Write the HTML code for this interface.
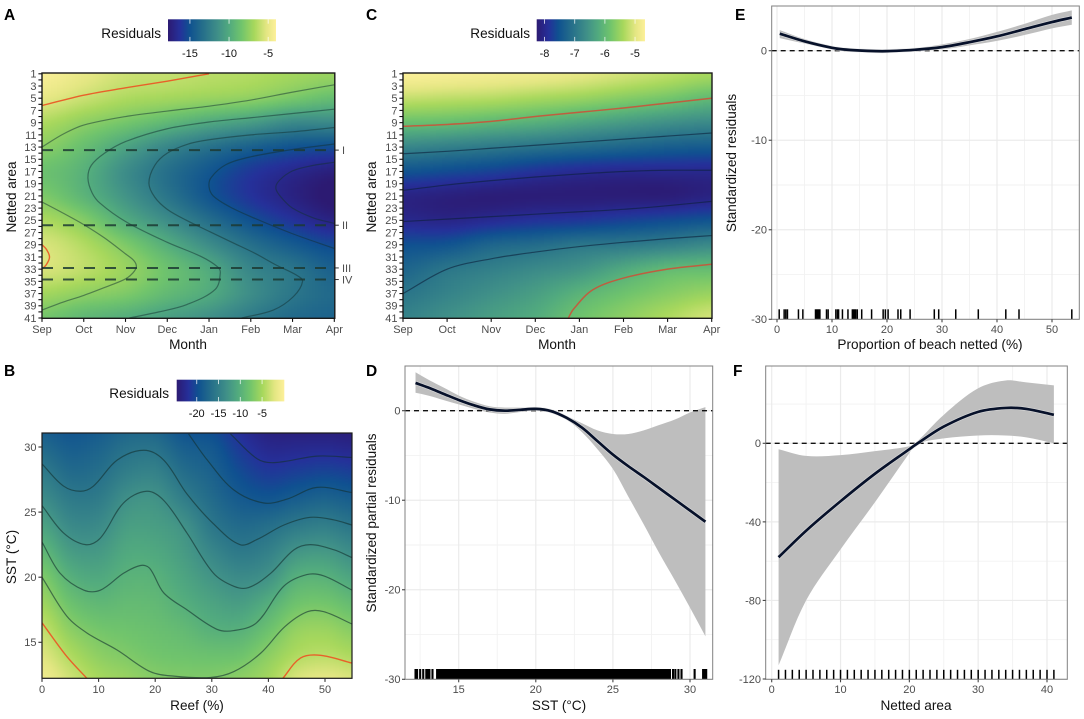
<!DOCTYPE html>
<html lang="en">
<head>
<meta charset="utf-8">
<title>Residual smooth panels A-F</title>
<style>
html,body{margin:0;padding:0;background:#fff;}
svg{display:block;font-family:"Liberation Sans",sans-serif;}
</style>
</head>
<body>
<svg id="fig" xmlns="http://www.w3.org/2000/svg" width="1084" height="719" viewBox="0 0 1084 719">
  <defs id="defs">
    <filter id="heat-soften" x="-5%" y="-5%" width="110%" height="110%" color-interpolation-filters="sRGB">
      <feGaussianBlur stdDeviation="1.6"></feGaussianBlur>
    </filter>
  </defs>
  <g id="panel-a"></g>
  <g id="panel-b"></g>
  <g id="panel-c"></g>
  <g id="panel-d"></g>
  <g id="panel-e"></g>
  <g id="panel-f"></g>
</svg>
<script>
/* ---------- shared labels ---------- */
const monthLabels = ['Sep','Oct','Nov','Dec','Jan','Feb','Mar','Apr'];
const areaTicks = [1,2,3,4,5,6,7,8,9,10,11,12,13,14,15,16,17,18,19,20,21,22,23,24,25,26,27,28,29,30,31,32,33,34,35,36,37,38,39,40,41];
const paletteColors = ['#2c1a72','#25309a','#0f5190','#256e8a','#3f8f88','#52ab7e','#70c46c','#a8d85c','#e3e682','#fdf09a'];
const paletteStops = [0,0.11,0.2,0.32,0.46,0.57,0.68,0.8,0.91,1];

/* ---------- panel A data ---------- */
const aAreaRows = [1,5,9,13,17,21,25,29,33,37,41];
const aValues = [
 [-4.2,-5.1,-6.6,-7.6,-8.6,-8.0,-6.6,-5.5,-5.5,-6.9,-8.3],
 [-5.0,-5.9,-7.5,-8.8,-9.6,-9.4,-7.8,-6.5,-6.2,-7.5,-9.2],
 [-5.8,-6.6,-8.3,-10.4,-11.6,-11.2,-9.9,-8.0,-7.2,-8.0,-9.8],
 [-6.0,-6.9,-9.2,-12.0,-13.3,-13.0,-11.6,-9.8,-8.6,-9.1,-10.6],
 [-6.3,-7.2,-10.1,-13.2,-14.7,-14.8,-13.4,-11.6,-10.0,-10.0,-11.4],
 [-6.5,-7.5,-10.8,-14.2,-16.0,-16.2,-15.0,-13.3,-12.0,-11.6,-12.6],
 [-6.9,-8.2,-11.8,-14.9,-16.8,-17.2,-16.2,-14.5,-13.0,-12.9,-13.6],
 [-7.2,-8.9,-11.8,-15.2,-17.4,-18.0,-17.2,-15.4,-14.2,-13.7,-14.0]
];
const aLegendDomain = [-17.8,-4];
const aLegendTicks = [-15,-10,-5];
const aRedContours = [
 [[0,6.2],[1,4.5],[2,3.3],[3,2.2],[4,1]],
 [[0,29],[0.1,29.7],[0.18,31],[0.1,32.3],[0,33]]
];
const aDarkContours = [
 [[0,13],[0.5,10.9],[1,9.4],[2,8],[3,7.1],[4,6.3],[5,5.3],[6,4],[7,2.8]],
 [[0,22],[0.5,23.8],[1,25.7],[1.5,27.9],[2,30.5],[2.2,31.6],[2.26,32.6],[2.18,33.6],[2,34.6],[1.5,36],[1,37.3],[0.5,38.4],[0,39.7]],
 [[7,6.8],[6,7.5],[5,8.2],[4,8.9],[3,10],[2,12.1],[1.5,14],[1.18,16],[1.1,18.1],[1.2,20.5],[1.39,22.2],[2,25.2],[3,28.6],[3.8,30.9],[4.2,32.6],[4.27,33.6],[4.15,36.3],[3.47,38.8],[2.8,40],[2.09,41]],
 [[7,9.8],[6,10.5],[5,11],[4,11.8],[3.5,12.5],[3,14],[2.7,16],[2.56,18.9],[2.7,21.2],[3,23.2],[3.46,25],[4,26.8],[4.58,28.7],[5.1,30.4],[5.6,32.3],[6.1,34],[6.24,35],[6.02,37.5],[5.54,39.7],[4.78,41]],
 [[7,12.5],[6,13.4],[5,14.6],[4.4,15.9],[4.05,18],[4,19.5],[4.1,21],[4.5,22.8],[5,24.4],[6,27.2],[7,29.6]],
 [[7,15.5],[6.5,16],[6,16.9],[5.68,18.5],[5.6,19.8],[5.75,21.4],[6,23],[6.5,24.6],[7,25.5]]
];
const aDashedAreas = [13.5,25.8,32.8,34.7];
const aDashedLabels = ['I','II','III','IV'];

/* ---------- panel C data ---------- */
const cAreaRows = [1,5,9,13,17,21,25,29,33,37,41];
const cValues = [
 [-4.7,-5.2,-5.9,-6.75,-7.5,-8.08,-8.0,-7.55,-7.25,-7.0,-6.8],
 [-4.75,-5.25,-5.95,-6.85,-7.6,-8.15,-8.05,-7.5,-7.0,-6.8,-6.6],
 [-4.8,-5.3,-6.05,-6.95,-7.7,-8.2,-7.95,-7.25,-6.85,-6.6,-6.4],
 [-4.85,-5.4,-6.15,-7.05,-7.85,-8.2,-7.85,-7.15,-6.7,-6.4,-6.2],
 [-4.95,-5.5,-6.3,-7.15,-7.95,-8.2,-7.8,-7.0,-6.55,-6.1,-5.85],
 [-5.1,-5.65,-6.45,-7.25,-8.0,-8.2,-7.7,-6.95,-6.25,-5.85,-5.6],
 [-5.25,-5.8,-6.6,-7.35,-8.0,-8.2,-7.6,-6.85,-6.0,-5.65,-5.35],
 [-5.4,-6.0,-6.7,-7.4,-8.0,-8.1,-7.5,-6.7,-5.95,-5.5,-5.1]
];
const cLegendDomain = [-8.26,-4.67];
const cLegendTicks = [-8,-7,-6,-5];
const cRedContours = [
 [[0,9.6],[1,9.3],[2,8.8],[3,8],[4,7.3],[5,6.6],[6,5.8],[7,5]],
 [[3.75,41],[3.86,39.6],[4.3,36.4],[4.98,34.5],[6,33],[7,32.2]]
];
const cDarkContours = [
 [[0,14.1],[1,13.7],[2,13.2],[3,12.7],[4,12.2],[5,11.7],[6,11.2],[7,10.7]],
 [[0,20.1],[1,19.2],[2,18.5],[3,17.9],[4,17.4],[5,17],[6,16.8],[7,16.8]],
 [[0,25.2],[1,24.8],[2,24.4],[3,24],[4,23.6],[5,23.2],[6,22.6],[7,21.9]],
 [[0,37],[1,33],[2,31.3],[3,30.2],[4,29.3],[5,28.6],[6,28],[7,27.5]]
];

/* ---------- panel B data ---------- */
const bReefColumns = [0,5,10,15,20,25,30,35,40,45,50,55];
const bSstRows = [12,14,16,18,20,22,24,26,28,30,32];
const bValues = [
 [-1,-2.3,-3.6,-5.3,-7,-9.2,-11.4,-13.5,-15.3,-17.2,-19],
 [-3,-4.5,-6.3,-8.1,-10,-12,-13.8,-15.4,-17,-18.4,-19.6],
 [-4.8,-6.2,-7.6,-9.2,-10.8,-12.3,-13.8,-15.3,-16.6,-17.8,-19],
 [-5.6,-7,-8,-8.9,-9.8,-10.8,-11.9,-13.2,-15,-16.5,-18],
 [-6.6,-7.7,-8.4,-9.1,-9.9,-10.9,-11.9,-12.9,-14.6,-16.4,-18.2],
 [-6.9,-8,-9,-10.2,-11.2,-12.1,-13,-15,-16.7,-18.3,-20],
 [-6.9,-8.2,-10,-11.3,-12.7,-14.2,-15.8,-17,-18,-19,-20.5],
 [-6.2,-8,-10,-11.9,-13.7,-15.6,-17.1,-18.7,-20,-21.3,-22.6],
 [-5,-6.3,-8.2,-10.3,-12.9,-14.8,-16.7,-19.2,-21.2,-22.8,-24],
 [-2.5,-4.5,-5.9,-8,-10.1,-12.8,-15.6,-18.4,-20.8,-22.8,-24.4],
 [-1.8,-4,-5.6,-7.7,-9.9,-12.4,-15.1,-17.8,-20.4,-22.7,-24.5],
 [-2.4,-4.6,-6.6,-8.8,-11.2,-13.6,-16,-18.4,-20.8,-23,-24.6]
];
const bLegendDomain = [-24.6,0.1];
const bLegendTicks = [-20,-15,-10,-5];
const bRedContours = [
 [[0,16.5],[4.4,13.9],[8,12.2]],
 [[42.5,12.2],[45.7,13.8],[49.2,14],[54.8,13.4]]
];
const bDarkContours = [
 [[0,20],[4.4,17],[8,15.7],[13.3,14.4],[19.1,12.75],[23.3,12.4],[29.8,12.3],[33.9,12.75],[38.6,14.15],[42.9,16.2],[46.9,17.35],[49.8,17.35],[54.8,16.4]],
 [[0,22.7],[3.2,20.3],[7.4,19],[10.3,19],[14.4,20.3],[17.4,20.9],[19,20.7],[21.5,18.8],[25.6,17.5],[30.9,16],[33.9,15.9],[37.9,16.5],[42.7,19.3],[46.8,20.2],[49.8,20.1],[54.8,19]],
 [[0,25.5],[3.8,23.4],[7.7,22.5],[10.3,23],[14.4,25.7],[18.5,26.6],[21.5,25.9],[25.6,23.4],[30.3,20.3],[33.9,19.3],[36.5,19.2],[40.4,20.3],[44.5,22.1],[47.4,22.5],[51.6,22.1],[54.8,21.5]],
 [[0,28.7],[3.8,27],[6.8,26.6],[9.1,27],[13.3,29],[18,29.75],[21.5,29],[25.6,26.4],[30.3,24.1],[35,22.5],[38,22.9],[42.7,24],[47.4,24.6],[51.6,24.4],[54.8,24]],
 [[25.9,31],[29.2,29],[33.9,26.7],[39.2,25.7],[43.3,26],[48.6,26.9],[54.8,26.5]],
 [[33.3,31],[38,29.1],[41,28.8],[48.6,29.3],[54.8,29.2]]
];

/* ---------- panel D data ---------- */
const dSst = [12.2,13,14,15,16,17,18,19,20,21,22,23,24,25,26,27,28,29,30,31];
const dFit = [3.1,2.6,1.9,1.2,0.6,0.15,0,0.1,0.2,-0.05,-0.8,-1.9,-3.4,-4.9,-6.2,-7.4,-8.65,-9.9,-11.15,-12.4];
const dUpper = [4.3,3.5,2.6,1.7,1,0.5,0.35,0.35,0.35,0.05,-0.6,-1.4,-2.2,-2.6,-2.6,-2.2,-1.6,-1,-0.2,0.4];
const dLower = [2,1.7,1.2,0.7,0.2,-0.2,-0.35,-0.15,0.05,-0.2,-1,-2.4,-4.3,-6.5,-9.6,-12.7,-15.9,-18.9,-22,-25.2];
const dRug = [12.2,12.3,12.5,12.7,12.9,13,13.1,13.3,13.6,13.7,13.8,13.9,14,14.1,14.2,14.3,14.4,14.5,14.6,14.7,14.8,14.9,15,15.1,15.2,15.3,15.4,15.5,15.6,15.7,15.8,15.9,16,16.1,16.2,16.3,16.4,16.5,16.6,16.7,16.8,16.9,17,17.1,17.2,17.3,17.4,17.5,17.6,17.7,17.8,17.9,18,18.1,18.2,18.3,18.4,18.5,18.6,18.7,18.8,18.9,19,19.1,19.2,19.3,19.4,19.5,19.6,19.7,19.8,19.9,20,20.1,20.2,20.3,20.4,20.5,20.6,20.7,20.8,20.9,21,21.1,21.2,21.3,21.4,21.5,21.6,21.7,21.8,21.9,22,22.1,22.2,22.3,22.4,22.5,22.6,22.7,22.8,22.9,23,23.1,23.2,23.3,23.4,23.5,23.6,23.7,23.8,23.9,24,24.1,24.2,24.3,24.4,24.5,24.6,24.7,24.8,24.9,25,25.1,25.2,25.3,25.4,25.5,25.6,25.7,25.8,25.9,26,26.1,26.2,26.3,26.4,26.5,26.6,26.7,26.8,26.9,27,27.1,27.2,27.3,27.4,27.5,27.6,27.7,27.8,27.9,28,28.1,28.2,28.3,28.4,28.5,28.6,28.7,28.9,29.05,29.25,29.45,30.3,30.85,30.95,31.05];
const dXMajor = [15,20,25,30];
const dXMinor = [12.5,17.5,22.5,27.5];
const dYMajor = [0,-10,-20,-30];
const dYMinor = [-5,-15,-25];

/* ---------- panel E data ---------- */
const eNetted = [0.5,5,10,12,15,18,20,25,30,35,40,45,50,53.6];
const eFit = [1.9,1.05,0.32,0.15,0.02,-0.05,-0.05,0.1,0.4,0.95,1.6,2.4,3.2,3.7];
const eUpper = [2.3,1.3,0.5,0.3,0.12,0.05,0.05,0.25,0.7,1.3,2.1,3,4,4.5];
const eLower = [1.4,0.8,0.18,0.05,-0.08,-0.12,-0.1,0,0.15,0.6,1.1,1.75,2.5,2.9];
const eRug = [0.4,1.3,1.6,1.9,3.9,4.7,7,7.2,7.4,7.6,7.8,9,9.3,10.7,11,11.2,11.9,12.9,13.7,13.9,14.1,14.3,14.6,15.4,17.2,19.3,19.7,20.2,22,22.5,24.2,28.6,29.4,32.5,36.6,41.6,44,53.6];
const eXMajor = [0,10,20,30,40,50];
const eXMinor = [5,15,25,35,45];
const eYMajor = [0,-10,-20,-30];
const eYMinor = [-5,-15,-25];

/* ---------- panel F data ---------- */
const fArea = [1,5,10,15,20,21,25,30,34,37,41];
const fFit = [-58,-44.5,-29.5,-15.5,-3,-0.5,8.5,16,18,17.5,14.5];
const fUpper = [-3,-6.4,-6,-4,-1.5,0.5,14.5,28,32,31,29.5];
const fLower = [-113,-80,-54,-30,-5,-0.5,2.5,4,4,3,0];
const fRug = [1,2,3,4,5,6,7,8,9,10,11,12,13,14,15,16,17,18,19,20,21,22,23,24,25,26,27,28,29,30,31,32,33,34,35,36,37,38,39,40,41];
const fXMajor = [0,10,20,30,40];
const fXMinor = [5,15,25,35];
const fYMajor = [0,-40,-80,-120];
const fYMinor = [20,-20,-60,-100];

/* ---------- helpers ---------- */
const NS = 'http://www.w3.org/2000/svg';
const defs = document.getElementById('defs');
function mk(parent, tag, attrs){
  const n = document.createElementNS(NS, tag);
  for (const k in attrs) n.setAttribute(k, attrs[k]);
  parent.appendChild(n);
  return n;
}
function linear(d0, d1, r0, r1){
  return v => r0 + (v - d0) * (r1 - r0) / (d1 - d0);
}
function hexRgb(h){
  return [parseInt(h.slice(1,3),16), parseInt(h.slice(3,5),16), parseInt(h.slice(5,7),16)];
}
function paletteColor(t){
  t = Math.max(0, Math.min(1, t));
  let i = 0;
  while (i < paletteStops.length - 2 && t > paletteStops[i+1]) i++;
  const f = (t - paletteStops[i]) / (paletteStops[i+1] - paletteStops[i]);
  const a = hexRgb(paletteColors[i]), b = hexRgb(paletteColors[i+1]);
  return 'rgb(' + Math.round(a[0]+(b[0]-a[0])*f) + ',' + Math.round(a[1]+(b[1]-a[1])*f) + ',' + Math.round(a[2]+(b[2]-a[2])*f) + ')';
}
function cubic(p0, p1, p2, p3, t){
  return 0.5 * (2*p1 + (p2-p0)*t + (2*p0-5*p1+4*p2-p3)*t*t + (3*p1-p0-3*p2+p3)*t*t*t);
}
function sampleGrid(grid, cx, cy){
  const nc = grid.length, nr = grid[0].length;
  cx = Math.max(0, Math.min(nc-1.0001, cx));
  cy = Math.max(0, Math.min(nr-1.0001, cy));
  const ci = Math.floor(cx), ri = Math.floor(cy);
  const col = [];
  for (let c = -1; c <= 2; c++){
    const column = grid[Math.max(0, Math.min(nc-1, ci+c))];
    col.push(cubic(
      column[Math.max(0, ri-1)], column[ri], column[Math.min(nr-1, ri+1)], column[Math.min(nr-1, ri+2)], cy-ri));
  }
  return cubic(col[0], col[1], col[2], col[3], cx-ci);
}
/* non-uniform Catmull-Rom: tangents weighted by chord length, so uneven spacing does not kink */
function smoothPath(pts, move){
  const dist = (a, b) => Math.max(0.01, Math.hypot(b[0]-a[0], b[1]-a[1]));
  const tan = pts.map((p, i) => {
    const a = pts[Math.max(0, i-1)], b = pts[Math.min(pts.length-1, i+1)];
    const d = dist(a, b);
    return [(b[0]-a[0])/d, (b[1]-a[1])/d];
  });
  let d = (move === false ? 'L' : 'M') + pts[0][0].toFixed(2) + ' ' + pts[0][1].toFixed(2);
  for (let i = 0; i < pts.length-1; i++){
    const p1 = pts[i], p2 = pts[i+1], s = dist(p1, p2)/3;
    const c1 = [p1[0]+tan[i][0]*s, p1[1]+tan[i][1]*s];
    const c2 = [p2[0]-tan[i+1][0]*s, p2[1]-tan[i+1][1]*s];
    d += 'C' + c1[0].toFixed(2)+' '+c1[1].toFixed(2)+' '+c2[0].toFixed(2)+' '+c2[1].toFixed(2)+' '+p2[0].toFixed(2)+' '+p2[1].toFixed(2);
  }
  return d;
}
function addText(parent, x, y, str, size, fill, anchor, rotate, weight){
  const t = mk(parent, 'text', {x:x, y:y, 'font-size':size, fill:fill, 'text-anchor':anchor});
  if (rotate) t.setAttribute('transform', 'rotate(-90 ' + x + ' ' + y + ')');
  if (weight) t.setAttribute('font-weight', weight);
  t.textContent = str;
  return t;
}
function addPanelLetter(group, letter, x, y){
  const t = addText(group, x, y, letter, 15.5, '#000', 'start', false, 'bold');
  
  
}
function addAxisTitle(group, x, y, str, rotate, name){
  const t = addText(group, x, y, str, 13.6, '#111', 'middle', rotate);
  
  
}
function addXTick(group, x, yTop, len, label, color, labelY){
  const l = mk(group, 'line', {x1:x, x2:x, y1:yTop, y2:yTop+len, stroke:color, 'stroke-width':1.1});
  
  
  const t = addText(group, x, labelY, label, 11, '#4d4d4d', 'middle');
  
  
}
function addYTick(group, y, xRight, len, label, color, labelX){
  const l = mk(group, 'line', {x1:xRight-len, x2:xRight, y1:y, y2:y, stroke:color, 'stroke-width':1.1});
  
  
  if (label !== ''){
    const t = addText(group, labelX, y+3.9, label, 11, '#4d4d4d', 'end');
    
    
  }
}

/* legend bar */
let gradCount = 0;
function addLegend(group, box, domain, ticks, titleRight, titleY){
  const t = addText(group, titleRight, titleY, 'Residuals', 13.6, '#111', 'end');
  
  
  const id = 'grad' + (gradCount++);
  const grad = mk(defs, 'linearGradient', {id:id, x1:0, x2:1, y1:0, y2:0});
  
  
  paletteStops.forEach((s, i) => {
    const stop = mk(grad, 'stop', {offset:s, 'stop-color':paletteColors[i]});
    
    
  });
  const bar = mk(group, 'rect', {x:box.x, y:box.y, width:box.w, height:box.h, fill:'url(#'+id+')'});
  
  
  const sx = linear(domain[0], domain[1], box.x, box.x+box.w);
  ticks.forEach(v => {
    const up = mk(group, 'line', {x1:sx(v), x2:sx(v), y1:box.y, y2:box.y+4.4, stroke:'#fff', 'stroke-width':0.9, opacity:0.8});
    
    
    const dn = mk(group, 'line', {x1:sx(v), x2:sx(v), y1:box.y+box.h-4.4, y2:box.y+box.h, stroke:'#fff', 'stroke-width':0.9, opacity:0.8});
    
    
    const lb = addText(group, sx(v), box.y+box.h+15.5, String(v), 11, '#111', 'middle');
    
    
  });
}

/* heatmap: cells sampled from the value grid through the axis scales */
function drawHeat(group, box, xInv, yInv, grid, domain, name){
  const id = 'clip-' + name;
  const cp = mk(defs, 'clipPath', {id:id});
  
  
  const cr = mk(cp, 'rect', {x:box.x0, y:box.y0, width:box.x1-box.x0, height:box.y1-box.y0});
  
  
  const outer = mk(group, 'g', {'clip-path':'url(#'+id+')'});
  
  
  const g = mk(outer, 'g', {filter:'url(#heat-soften)', 'shape-rendering':'crispEdges'});
  
  
  const step = 3;
  const frag = document.createDocumentFragment();
  for (let px = Math.floor(box.x0)-6; px < box.x1+6; px += step){
    for (let py = Math.floor(box.y0)-6; py < box.y1+6; py += step){
      const v = sampleGrid(grid, xInv(px+step/2), yInv(py+step/2));
      const cell = document.createElementNS(NS, 'rect');
      cell.setAttribute('x', px);
      cell.setAttribute('y', py);
      cell.setAttribute('width', step);
      cell.setAttribute('height', step);
      cell.setAttribute('fill', paletteColor((v-domain[0])/(domain[1]-domain[0])));
      
      
      frag.appendChild(cell);
    }
  }
  g.appendChild(frag);
  return id;
}
function drawContours(group, clipId, list, sx, sy, stroke, width, opacity, name){
  const g = mk(group, 'g', {'clip-path':'url(#'+clipId+')'});
  
  
  list.forEach(line => {
    const p = mk(g, 'path', {d:smoothPath(line.map(q => [sx(q[0]), sy(q[1])])), fill:'none', stroke:stroke, 'stroke-width':width, 'stroke-opacity':opacity});
    
    
  });
}
function drawFrame(group, box, stroke, width){
  const r = mk(group, 'rect', {x:box.x0, y:box.y0, width:box.x1-box.x0, height:box.y1-box.y0, fill:'none', stroke:stroke, 'stroke-width':width});
  
  
}

/* ---------- panel A ---------- */
(function(){
  const g = document.getElementById('panel-a');
  const box = {x0:42, x1:334.8, y0:73, y1:318.3};
  const sx = linear(0, 7, 42, 334.3);
  const sy = linear(1, 41, 73.8, 318);
  const gx = v => (v-42)/(292.3/7);
  const gy = v => ((v-73.8)/(244.2/40))/(aAreaRows[1]-aAreaRows[0]);
  addPanelLetter(g, 'A', 4, 20);
  addLegend(g, {x:168,y:19.3,w:108,h:22}, aLegendDomain, aLegendTicks, 161, 38);
  const clip = drawHeat(g, box, gx, gy, aValues, aLegendDomain, 'panel-a-heatmap');
  drawContours(g, clip, aDarkContours, sx, sy, '#12302f', 1.2, 0.5, 'panel-a-contour');
  drawContours(g, clip, aRedContours, sx, sy, '#ea5a26', 1.4, 0.95, 'panel-a-contour-highlight');
  aDashedAreas.forEach((a,i) => {
    const d = mk(g, 'line', {x1:box.x0, x2:box.x1, y1:sy(a), y2:sy(a), stroke:'#1c3a33', 'stroke-width':2, 'stroke-opacity':0.85, 'stroke-dasharray':'11 10'});
    
    
    const tk = mk(g, 'line', {x1:box.x1, x2:box.x1+4, y1:sy(a), y2:sy(a), stroke:'#333', 'stroke-width':1});
    
    
    const t = addText(g, 342, sy(a)+3.9, aDashedLabels[i], 11, '#4d4d4d', 'start');
    
    
  });
  drawFrame(g, box, '#1a1a1a', 1.4);
  monthLabels.forEach((m,i) => addXTick(g, sx(i), 318.3, 3.6, m, '#111', 333));
  areaTicks.forEach(a => addYTick(g, sy(a), 42, 3.6, a % 2 ? String(a) : '', '#111', 36.5));
  addAxisTitle(g, 188, 349, 'Month', false, 'x-axis-title');
  addAxisTitle(g, 16, 197, 'Netted area', true, 'y-axis-title');
})();

/* ---------- panel C ---------- */
(function(){
  const g = document.getElementById('panel-c');
  const box = {x0:403, x1:712, y0:73, y1:318.3};
  const sx = linear(0, 7, 403, 711.7);
  const sy = linear(1, 41, 73.8, 318);
  const gx = v => (v-403)/(308.7/7);
  const gy = v => ((v-73.8)/(244.2/40))/(cAreaRows[1]-cAreaRows[0]);
  addPanelLetter(g, 'C', 366, 20);
  addLegend(g, {x:536.7,y:19.3,w:108.3,h:22}, cLegendDomain, cLegendTicks, 530, 38);
  const clip = drawHeat(g, box, gx, gy, cValues, cLegendDomain, 'panel-c-heatmap');
  drawContours(g, clip, cDarkContours, sx, sy, '#0c1f3a', 1.2, 0.6, 'panel-c-contour');
  drawContours(g, clip, cRedContours, sx, sy, '#c4583c', 1.5, 0.95, 'panel-c-contour-highlight');
  drawFrame(g, box, '#1a1a1a', 1.4);
  monthLabels.forEach((m,i) => addXTick(g, sx(i), 318.3, 3.6, m, '#111', 333));
  areaTicks.forEach(a => addYTick(g, sy(a), 403, 3.6, a % 2 ? String(a) : '', '#111', 397.5));
  addAxisTitle(g, 557, 349, 'Month', false, 'x-axis-title');
  addAxisTitle(g, 376, 197, 'Netted area', true, 'y-axis-title');
})();

/* ---------- panel B ---------- */
(function(){
  const g = document.getElementById('panel-b');
  const box = {x0:42, x1:352, y0:433, y1:678.3};
  const sx = linear(0, 50, 42, 325);
  const sy = linear(15, 30, 642.3, 447);
  const gx = v => ((v-42)/5.66)/(bReefColumns[1]-bReefColumns[0]);
  const gy = v => ((15+(642.3-v)/13.02)-bSstRows[0])/(bSstRows[1]-bSstRows[0]);
  addPanelLetter(g, 'B', 4, 376);
  addLegend(g, {x:176.7,y:379.7,w:107.6,h:21.7}, bLegendDomain, bLegendTicks, 169, 398);
  const clip = drawHeat(g, box, gx, gy, bValues, bLegendDomain, 'panel-b-heatmap');
  drawContours(g, clip, bDarkContours, sx, sy, '#12302f', 1.2, 0.6, 'panel-b-contour');
  drawContours(g, clip, bRedContours, sx, sy, '#ea5a26', 1.4, 0.95, 'panel-b-contour-highlight');
  drawFrame(g, box, '#1a1a1a', 1.2);
  [0,10,20,30,40,50].forEach(v => addXTick(g, sx(v), 678.3, 3.6, String(v), '#333', 693));
  [15,20,25,30].forEach(v => addYTick(g, sy(v), 42, 3.6, String(v), '#333', 36.5));
  addAxisTitle(g, 197, 710, 'Reef (%)', false, 'x-axis-title');
  addAxisTitle(g, 16, 557, 'SST (°C)', true, 'y-axis-title');
})();

/* ---------- line panels ---------- */
function drawSmoothPanel(g, box, sx, sy, cfg){
  const bg = mk(g, 'rect', {x:box.x0, y:box.y0, width:box.x1-box.x0, height:box.y1-box.y0, fill:'#fff'});
  
  
  cfg.xMinor.forEach(v => {
    const l = mk(g, 'line', {x1:sx(v), x2:sx(v), y1:box.y0, y2:box.y1, stroke:'#f2f2f2', 'stroke-width':0.9});
    
    
  });
  cfg.yMinor.forEach(v => {
    const l = mk(g, 'line', {x1:box.x0, x2:box.x1, y1:sy(v), y2:sy(v), stroke:'#f2f2f2', 'stroke-width':0.9});
    
    
  });
  cfg.xMajor.forEach(v => {
    const l = mk(g, 'line', {x1:sx(v), x2:sx(v), y1:box.y0, y2:box.y1, stroke:'#ebebeb', 'stroke-width':1.2});
    
    
  });
  cfg.yMajor.forEach(v => {
    const l = mk(g, 'line', {x1:box.x0, x2:box.x1, y1:sy(v), y2:sy(v), stroke:'#ebebeb', 'stroke-width':1.2});
    
    
  });
  const up = cfg.x.map((v,i) => [sx(v), sy(cfg.upper[i])]);
  const lo = cfg.x.map((v,i) => [sx(v), sy(cfg.lower[i])]).reverse();
  const ribbon = mk(g, 'path', {d:smoothPath(up) + smoothPath(lo, false) + 'Z', fill:'#bebebe'});
  
  
  const zero = mk(g, 'line', {x1:box.x0, x2:box.x1, y1:sy(0), y2:sy(0), stroke:'#111', 'stroke-width':1.3, 'stroke-dasharray':'5 4'});
  
  
  const fitPts = cfg.x.map((v,i) => [sx(v), sy(cfg.fit[i])]);
  const halo = mk(g, 'path', {d:smoothPath(fitPts), fill:'none', stroke:'#e6e6e6', 'stroke-width':4, 'stroke-opacity':0.7});
  
  
  const fit = mk(g, 'path', {d:smoothPath(fitPts), fill:'none', stroke:'#07112a', 'stroke-width':2.7});
  
  
  cfg.rug.forEach(v => {
    const r = mk(g, 'line', {x1:sx(v), x2:sx(v), y1:box.y1-cfg.rugLen, y2:box.y1, stroke:'#000', 'stroke-width':cfg.rugWidth});
    
    
  });
  drawFrame(g, box, '#808080', 1);
  cfg.xMajor.forEach(v => addXTick(g, sx(v), box.y1, 3, String(v), '#444', cfg.xLabelY));
  cfg.yMajor.forEach(v => addYTick(g, sy(v), box.x0, 3, String(v), '#444', cfg.yLabelX));
}

(function(){
  const g = document.getElementById('panel-d');
  const box = {x0:405, x1:712.7, y0:366, y1:679.3};
  const sx = linear(15, 30, 458.7, 690);
  const sy = linear(0, -30, 410.7, 679.3);
  drawSmoothPanel(g, box, sx, sy, {x:dSst, fit:dFit, upper:dUpper, lower:dLower, rug:dRug, rugLen:10.3, rugWidth:2.1,
    xMajor:dXMajor, xMinor:dXMinor, yMajor:dYMajor, yMinor:dYMinor, xLabelY:693, yLabelX:400.5});
  addPanelLetter(g, 'D', 366, 376);
  addAxisTitle(g, 559, 710, 'SST (°C)', false, 'x-axis-title');
  addAxisTitle(g, 376, 523, 'Standardized partial residuals', true, 'y-axis-title');
})();

(function(){
  const g = document.getElementById('panel-e');
  const box = {x0:771.7, x1:1079.3, y0:6, y1:319.3};
  const sx = linear(0, 50, 777, 1052);
  const sy = linear(0, -30, 50.7, 319.3);
  drawSmoothPanel(g, box, sx, sy, {x:eNetted, fit:eFit, upper:eUpper, lower:eLower, rug:eRug, rugLen:10, rugWidth:1.5,
    xMajor:eXMajor, xMinor:eXMinor, yMajor:eYMajor, yMinor:eYMinor, xLabelY:333, yLabelX:767});
  addPanelLetter(g, 'E', 735, 20);
  addAxisTitle(g, 930, 349, 'Proportion of beach netted (%)', false, 'x-axis-title');
  addAxisTitle(g, 736, 163, 'Standardized residuals', true, 'y-axis-title');
})();

(function(){
  const g = document.getElementById('panel-f');
  const box = {x0:765.7, x1:1067.3, y0:366, y1:679.3};
  const sx = linear(0, 40, 771.7, 1047);
  const sy = linear(0, -120, 443.3, 679);
  drawSmoothPanel(g, box, sx, sy, {x:fArea, fit:fFit, upper:fUpper, lower:fLower, rug:fRug, rugLen:9.5, rugWidth:1.5,
    xMajor:fXMajor, xMinor:fXMinor, yMajor:fYMajor, yMinor:fYMinor, xLabelY:693, yLabelX:761});
  addPanelLetter(g, 'F', 733, 376);
  addAxisTitle(g, 916, 710, 'Netted area', false, 'x-axis-title');
})();
</script>
</body>
</html>
